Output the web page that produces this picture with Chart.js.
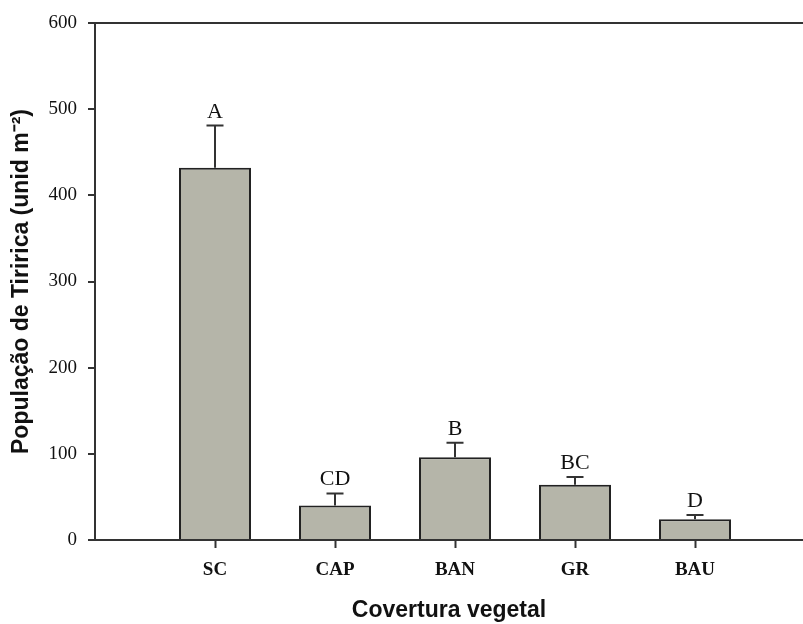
<!DOCTYPE html>
<html>
<head>
<meta charset="utf-8">
<script src="https://cdn.jsdelivr.net/npm/chart.js@4"></script>
<style>
  html, body { margin: 0; padding: 0; background: #fff; }
  #wrap { width: 803px; height: 624px; }
</style>
</head>
<body>
<div id="wrap"><canvas id="grafico"></canvas></div>
<script>
// Dados
const kategorier = ["SC", "CAP", "BAN", "GR", "BAU"];
const populacao = [432, 40, 96, 64, 24];
const erro      = [49, 14, 17, 9, 5];   // desvio (só a parte de cima)
const letras    = ["A", "CD", "B", "BC", "D"];
const yTicks    = [0, 100, 200, 300, 400, 500, 600];

const corLinha = "#333";

// Barras de erro + letras em cima das barras
const erroPlugin = {
  id: "erroPlugin",
  afterDatasetsDraw(chart) {
    const ctx = chart.ctx;
    const xs = chart.scales.x;
    const ys = chart.scales.y;
    ctx.save();
    ctx.strokeStyle = corLinha;
    ctx.lineWidth = 2;
    ctx.fillStyle = "#111";
    ctx.font = "22px 'Liberation Serif'";
    ctx.textAlign = "center";
    ctx.textBaseline = "alphabetic";
    kategorier.forEach((k, i) => {
      const x = xs.getPixelForValue(i + 1);
      const yTop = ys.getPixelForValue(populacao[i]);
      const yErr = ys.getPixelForValue(populacao[i] + erro[i]);
      ctx.beginPath();
      ctx.moveTo(x, yTop);
      ctx.lineTo(x, yErr);
      ctx.moveTo(x - 8.5, yErr);
      ctx.lineTo(x + 8.5, yErr);
      ctx.stroke();
      ctx.fillText(letras[i], x, yErr - 8);
    });
    ctx.restore();
  }
};

new Chart(document.getElementById("grafico"), {
  type: "bar",
  data: {
    datasets: [{
      data: kategorier.map((k, i) => ({ x: i + 1, y: populacao[i] })),
      backgroundColor: "#b5b5a9",
      borderColor: "#222",
      borderWidth: 2,
      categoryPercentage: 1,
      barPercentage: 0.6
    }]
  },
  options: {
    responsive: true,
    maintainAspectRatio: false,
    animation: false,
    layout: { padding: { top: 23, right: 0, left: 0, bottom: 0 } },
    plugins: {
      legend: { display: false },
      tooltip: { enabled: false }
    },
    scales: {
      x: {
        type: "linear",
        min: 0,
        max: 5.9,
        offset: false,
        afterBuildTicks(axis) {
          axis.ticks = kategorier.map((k, i) => ({ value: i + 1 }));
        },
        afterFit(axis) { axis.height = 84; },
        ticks: {
          autoSkip: false,
          maxRotation: 0,
          padding: 11,
          color: "#111",
          font: { family: "'Liberation Serif'", size: 19, weight: "bold" },
          callback: (v) => kategorier[v - 1] || ""
        },
        grid: {
          drawOnChartArea: false,
          offset: false,
          tickLength: 8,
          tickColor: corLinha,
          tickWidth: 2
        },
        border: { color: corLinha, width: 2 },
        title: {
          display: true,
          text: "Covertura vegetal",
          color: "#111",
          font: { family: "'Liberation Sans'", size: 23, weight: "bold" },
          padding: { top: 0, bottom: 0 }
        }
      },
      y: {
        min: 0,
        max: 600,
        afterBuildTicks(axis) {
          axis.ticks = yTicks.map(v => ({ value: v }));
        },
        afterFit(axis) { axis.width = 95; },
        ticks: {
          padding: 11,
          color: "#111",
          font: { family: "'Liberation Serif'", size: 19 }
        },
        grid: {
          color: (c) => (c.tick && c.tick.value === 600) ? corLinha : "transparent",
          lineWidth: 2,
          tickLength: 7,
          tickColor: corLinha,
          tickWidth: 2
        },
        border: { color: corLinha, width: 2 },
        title: {
          display: true,
          text: "População de Tiririca (unid m⁻²)",
          color: "#111",
          font: { family: "'Liberation Sans'", size: 23, weight: "bold" },
          padding: { top: 8, bottom: 0 }
        }
      }
    }
  },
  plugins: [erroPlugin]
});
</script>
</body>
</html>
